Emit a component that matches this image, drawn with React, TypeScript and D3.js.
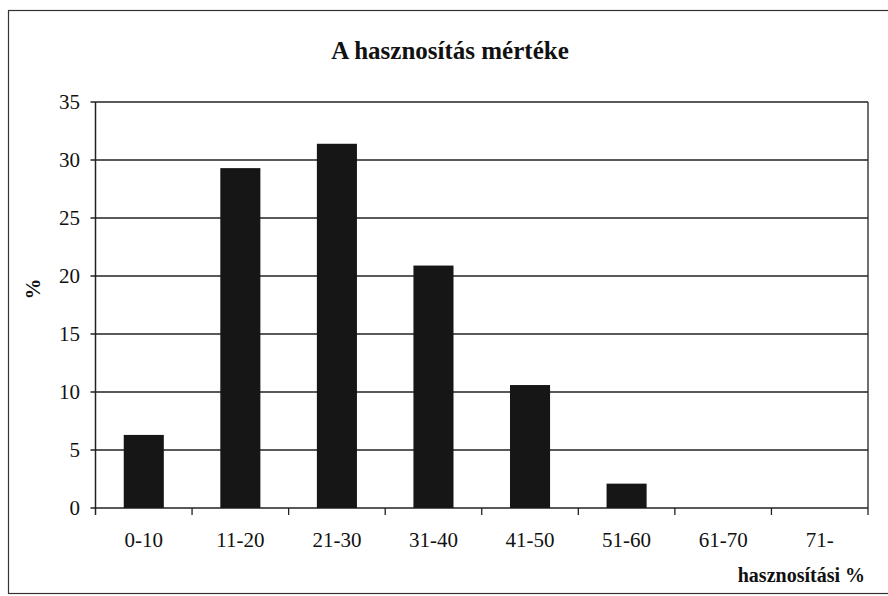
import React, { useEffect, useRef } from "react";
import * as d3 from "d3";

const categories = ["0-10", "11-20", "21-30", "31-40", "41-50", "51-60", "61-70", "71-"];
const values = [6.3, 29.3, 31.4, 20.9, 10.6, 2.1, 0, 0];
const yTickValues = [0, 5, 10, 15, 20, 25, 30, 35];

const title = "A hasznosítás mértéke";
const xTitle = "hasznosítási %";
const yTitle = "%";

const width = 888;
const height = 596;
const plot = { left: 95.5, right: 868, top: 102, bottom: 508 };
const font = "'Liberation Serif', 'Times New Roman', serif";

const App = () => {
  const svgRef = useRef<SVGSVGElement | null>(null);

  useEffect(() => {
    const svg = d3.select(svgRef.current);
    svg.selectAll("*").remove();

    svg.append("rect").attr("width", width).attr("height", height).attr("fill", "#fff");

    // outer chart frame (right edge falls outside the picture)
    svg
      .append("rect")
      .attr("x", 8.5)
      .attr("y", 10.5)
      .attr("width", 900)
      .attr("height", 583)
      .attr("fill", "none")
      .attr("stroke", "#333")
      .attr("stroke-width", 1.2);

    const x = d3
      .scaleBand()
      .domain(categories)
      .range([plot.left, plot.right])
      .padding(0);

    const y = d3.scaleLinear().domain([0, 35]).range([plot.bottom, plot.top]);

    const barWidth = x.bandwidth() * 0.415;

    // grid lines
    svg
      .append("g")
      .selectAll("line")
      .data(yTickValues)
      .join("line")
      .attr("x1", plot.left - 5)
      .attr("x2", plot.right)
      .attr("y1", (d) => y(d))
      .attr("y2", (d) => y(d))
      .attr("stroke", "#222")
      .attr("stroke-width", 1.3);

    // plot area sides
    svg
      .append("line")
      .attr("x1", plot.left)
      .attr("x2", plot.left)
      .attr("y1", plot.top)
      .attr("y2", plot.bottom + 7)
      .attr("stroke", "#222")
      .attr("stroke-width", 1.5);
    svg
      .append("line")
      .attr("x1", plot.right)
      .attr("x2", plot.right)
      .attr("y1", plot.top)
      .attr("y2", plot.bottom + 7)
      .attr("stroke", "#222")
      .attr("stroke-width", 1.3);

    // x tick marks at category boundaries
    svg
      .append("g")
      .selectAll("line")
      .data(categories.slice(1))
      .join("line")
      .attr("x1", (d) => x(d)!)
      .attr("x2", (d) => x(d)!)
      .attr("y1", plot.bottom)
      .attr("y2", plot.bottom + 7)
      .attr("stroke", "#222")
      .attr("stroke-width", 1.3);

    // bars
    svg
      .append("g")
      .selectAll("rect")
      .data(values)
      .join("rect")
      .attr("x", (d, i) => x(categories[i])! + (x.bandwidth() - barWidth) / 2)
      .attr("y", (d) => y(d))
      .attr("width", barWidth)
      .attr("height", (d) => y(0) - y(d))
      .attr("fill", "#161616");

    // y tick labels
    svg
      .append("g")
      .selectAll("text")
      .data(yTickValues)
      .join("text")
      .attr("x", 80)
      .attr("y", (d) => y(d) + 7)
      .attr("text-anchor", "end")
      .style("font-family", font)
      .style("font-size", "21px")
      .attr("fill", "#111")
      .text((d) => d);

    // x tick labels
    svg
      .append("g")
      .selectAll("text")
      .data(categories)
      .join("text")
      .attr("x", (d) => x(d)! + x.bandwidth() / 2)
      .attr("y", 547)
      .attr("text-anchor", "middle")
      .style("font-family", font)
      .style("font-size", "21px")
      .attr("fill", "#111")
      .text((d) => d);

    // title
    svg
      .append("text")
      .attr("x", 450)
      .attr("y", 59)
      .attr("text-anchor", "middle")
      .style("font-family", font)
      .style("font-size", "25px")
      .style("font-weight", "700")
      .attr("fill", "#111")
      .text(title);

    // axis titles
    svg
      .append("text")
      .attr("x", 865)
      .attr("y", 582)
      .attr("text-anchor", "end")
      .style("font-family", font)
      .style("font-size", "20px")
      .style("font-weight", "700")
      .attr("fill", "#111")
      .text(xTitle);

    svg
      .append("text")
      .attr("transform", "translate(40,289) rotate(-90)")
      .attr("text-anchor", "middle")
      .style("font-family", font)
      .style("font-size", "21px")
      .style("font-weight", "700")
      .attr("fill", "#111")
      .text(yTitle);
  }, []);

  return (
    <svg
      ref={svgRef}
      width={width}
      height={height}
      style={{ position: "absolute", left: 0, top: 0, display: "block" }}
    />
  );
};

export default App;
